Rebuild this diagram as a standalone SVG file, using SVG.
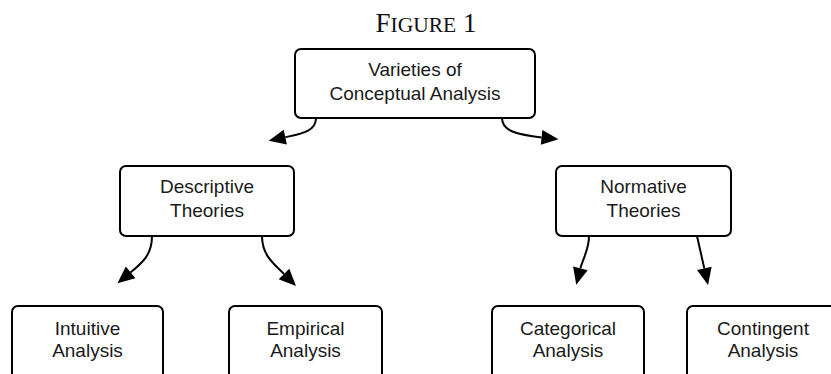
<svg xmlns="http://www.w3.org/2000/svg" width="831" height="374" viewBox="0 0 831 374">
<style>
.box{fill:#fff;stroke:#000;stroke-width:2}
.lbl{font-family:"Liberation Sans",Arial,sans-serif;font-size:19px;fill:#1a1a1a;text-anchor:middle}
.ttl{font-family:"Liberation Serif","Times New Roman",serif;fill:#111;text-anchor:middle}
.edge{fill:none;stroke:#000;stroke-width:2}
</style>
<defs>
<marker id="ah" markerUnits="userSpaceOnUse" markerWidth="17" markerHeight="15" refX="0" refY="7.5" orient="auto" overflow="visible">
<path d="M0,0 L17,7.5 L0,15 z" fill="#000"/>
</marker>
</defs>
<rect width="831" height="374" fill="#fff"/>
<text class="ttl" x="426" y="32" font-size="27">F<tspan font-size="21.5">IGURE</tspan> 1</text>
<g id="root">
<rect class="box" x="295" y="49" width="240" height="69" rx="6"/>
<text class="lbl" x="415" y="76">Varieties of</text>
<text class="lbl" x="415" y="100">Conceptual Analysis</text>
</g>
<g id="descriptive">
<rect class="box" x="120" y="166" width="174" height="70" rx="6"/>
<text class="lbl" x="207" y="193">Descriptive</text>
<text class="lbl" x="207" y="217">Theories</text>
</g>
<g id="normative">
<rect class="box" x="556" y="166" width="175" height="70" rx="6"/>
<text class="lbl" x="643.5" y="193">Normative</text>
<text class="lbl" x="643.5" y="217">Theories</text>
</g>
<g id="intuitive">
<rect class="box" x="12" y="306" width="151" height="80" rx="6"/>
<text class="lbl" x="87.5" y="335">Intuitive</text>
<text class="lbl" x="87.5" y="357">Analysis</text>
</g>
<g id="empirical">
<rect class="box" x="229" y="306" width="153" height="80" rx="6"/>
<text class="lbl" x="305.5" y="335">Empirical</text>
<text class="lbl" x="305.5" y="357">Analysis</text>
</g>
<g id="categorical">
<rect class="box" x="492" y="306" width="152" height="80" rx="6"/>
<text class="lbl" x="568" y="335">Categorical</text>
<text class="lbl" x="568" y="357">Analysis</text>
</g>
<g id="contingent">
<rect class="box" x="687" y="306" width="152" height="80" rx="6"/>
<text class="lbl" x="763" y="335">Contingent</text>
<text class="lbl" x="763" y="357">Analysis</text>
</g>
<g id="connectors">
<path class="edge" marker-end="url(#ah)" d="M316,118 C316,132 300,134 285.3,137.2"/>
<path class="edge" marker-end="url(#ah)" d="M502,118 C502,132 520,135 541.6,137.4"/>
<path class="edge" marker-end="url(#ah)" d="M152,236 C152,255 142,263 130.6,272.4"/>
<path class="edge" marker-end="url(#ah)" d="M262,236 C262,255 273,263 284,274"/>
<path class="edge" marker-end="url(#ah)" d="M589,236 C589,250 583,258 580.4,268.3"/>
<path class="edge" marker-end="url(#ah)" d="M697,236 L704.3,268.4"/>
</g>
</svg>
